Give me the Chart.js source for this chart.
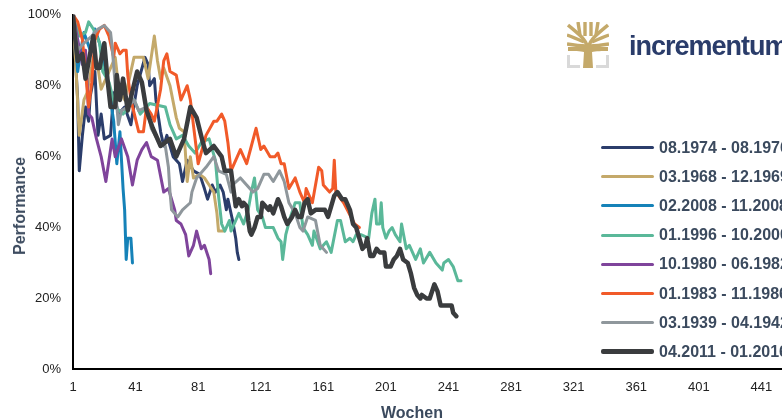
<!DOCTYPE html>
<html>
<head>
<meta charset="utf-8">
<title>Performance</title>
<script src="https://cdn.jsdelivr.net/npm/chart.js@4/dist/chart.umd.min.js"></script>
<style>
  html, body { margin: 0; padding: 0; background: #fff; overflow: hidden; }
  #wrap { position: relative; width: 782px; height: 420px; overflow: hidden; font-family: "Liberation Sans", Arial, sans-serif; }
  #chart { position: absolute; left: 0; top: 0; }
  #legend { position: absolute; left: 601px; top: 133px; width: 220px; }
  .row { display: flex; align-items: center; height: 29.2px; white-space: nowrap; color: #3b4a5e; font-size: 16px; font-weight: bold; }
  .swatch { display: inline-block; width: 53px; margin-right: 5px; border-radius: 2px; }
  #xtitle { position: absolute; left: 381px; top: 404px; color: #3b4a5e; font-size: 16px; font-weight: bold; }
  #ytitle { position: absolute; left: 20px; top: 206px; transform: translate(-50%, -50%) rotate(-90deg); color: #3b4a5e; font-size: 16px; font-weight: bold; white-space: nowrap; }
  #brand { position: absolute; left: 629px; top: 31px; color: #2a3c6a; font-size: 27px; font-weight: 700; letter-spacing: -1px; white-space: nowrap; }
  #logo { position: absolute; left: 567px; top: 22px; }
</style>
</head>
<body>
<div id="wrap">
  <canvas id="chart" width="840" height="420"></canvas>
  <svg id="logo" width="42" height="46" viewBox="0 0 42 46">
    <g fill="none" stroke="#c4a96a" stroke-width="3.4">
      <path d="M21 28 C20 18 14 14 1 3"/><path d="M21 28 C22 18 28 14 41 3"/>
      <path d="M17 20 C12 18 6 15 0 13"/><path d="M25 20 C30 18 36 15 42 13"/>
      <path d="M19 24 C12 24 6 23 0 22"/><path d="M23 24 C30 24 36 23 42 22"/>
      <path d="M13 13 L11 0"/><path d="M29 13 L31 0"/><path d="M18 14 L18 0"/><path d="M24 14 L24 0"/>
    </g>
    <path d="M16 46 L17 30 C14 29 6 29 1 29 L1 25 L41 25 L41 29 C36 29 28 29 25 30 L26 46 Z" fill="#c4a96a"/>
    <path d="M1.5 33 V44.5 H13 M40.5 33 V44.5 H29" fill="none" stroke="#d9d9d9" stroke-width="3"/>
  </svg>
  <div id="brand">incrementum</div>
  <div id="legend"></div>
  <div id="xtitle">Wochen</div>
  <div id="ytitle">Performance</div>
</div>
<script>
// values as [week, performance %]
const s1974 = [[1,100],[4,76],[5,56],[7,66],[9,74],[11,70],[12,77],[15,84],[17,66],[19,72],[21,65],[25,66],[27,78],[30,72],[34,74],[38,69],[42,80],[47,88],[49,86],[50,80],[53,82],[54,76],[57,67],[59,63],[61,66],[65,60],[69,58],[71,53],[74,59],[78,56],[82,55],[85,51],[87,48],[90,52],[92,50],[95,52],[97,50],[99,45],[100,48],[103,42],[105,37],[106,33],[107,31]];
const s1968 = [[1,100],[3,84],[5,66],[8,76],[10,78],[14,88],[17,85],[19,79],[24,84],[28,88],[30,80],[34,76],[37,82],[40,88],[43,88],[46,88],[48,84],[49,82],[53,94],[55,87],[57,82],[59,85],[63,80],[67,71],[69,68],[72,67],[74,53],[76,60],[78,54],[82,55],[85,54],[88,52],[91,50],[93,44],[94,39],[97,39]];
const s2008 = [[1,100],[2,96],[4,84],[6,90],[8,95],[12,90],[15,96],[18,92],[22,84],[25,76],[27,70],[28,64],[29,58],[31,67],[33,51],[34,45],[35,31],[36,37],[38,37],[39,30]];
const s1996 = [[1,100],[5,94],[9,95],[11,98],[14,96],[18,92],[20,84],[24,81],[28,74],[33,72],[40,76],[44,72],[50,75],[60,74],[63,69],[67,65],[71,66],[75,63],[79,61],[83,64],[88,65],[92,59],[94,49],[96,41],[98,39],[101,42],[102,39],[107,44],[110,41],[113,45],[115,50],[117,54],[119,45],[122,43],[124,40],[129,40],[132,37],[134,36],[135,31],[137,38],[140,43],[143,47],[146,47],[148,40],[151,38],[154,35],[155,39],[159,34],[163,36],[166,33],[170,42],[172,42],[175,36],[178,37],[180,36],[182,38],[185,38],[190,37],[192,44],[194,48],[195,41],[197,41],[198,47],[199,40],[201,37],[203,39],[205,40],[207,38],[210,36],[211,41],[214,34],[216,35],[220,31],[223,34],[225,30],[229,33],[233,30],[237,28],[238,30],[241,31],[244,29],[247,25],[249,25]];
const s1980 = [[1,100],[4,93],[7,86],[9,90],[11,72],[13,71],[16,65],[19,60],[22,53],[26,65],[28,60],[32,65],[36,60],[39,52],[42,59],[45,62],[48,64],[51,60],[55,59],[59,50],[62,51],[66,45],[67,42],[70,41],[73,38],[75,32],[78,35],[80,39],[83,34],[85,35],[88,31],[89,27]];
const s1983 = [[1,100],[4,98],[7,93],[9,84],[11,74],[13,81],[15,93],[18,96],[21,97],[24,94],[27,88],[28,92],[31,89],[33,90],[35,90],[36,83],[38,76],[43,67],[46,67],[48,74],[51,72],[53,70],[57,79],[59,87],[61,89],[63,84],[67,83],[70,76],[74,80],[76,76],[81,58],[86,66],[91,70],[93,70],[96,72],[98,70],[100,64],[102,56],[108,62],[112,58],[115,63],[118,68],[121,62],[123,63],[127,60],[130,60],[132,61],[134,58],[136,58],[139,51],[143,54],[146,50],[149,47],[150,51],[154,47],[158,57],[160,56],[161,52],[165,50],[167,51],[168,59],[169,50],[174,47],[181,41],[184,40]];
const s1939 = [[1,100],[4,90],[8,92],[13,94],[17,96],[21,97],[25,95],[26,91],[28,80],[30,69],[32,73],[36,74],[40,76],[43,73],[48,74],[51,68],[56,64],[60,63],[62,57],[63,50],[64,45],[68,43],[71,45],[76,47],[77,50],[80,54],[86,57],[91,60],[94,56],[99,55],[102,50],[103,52],[108,54],[112,52],[116,50],[119,51],[123,55],[126,55],[129,53],[133,56],[136,53],[139,47],[143,44],[146,40],[148,39],[151,43],[156,42],[159,35],[163,33]];
const s2011 = [[1,100],[2,95],[4,87],[7,89],[9,82],[14,94],[16,85],[18,85],[21,92],[23,82],[25,74],[28,74],[29,83],[31,76],[33,82],[36,73],[42,84],[45,81],[48,73],[52,68],[57,63],[63,65],[67,60],[72,65],[76,74],[80,71],[84,64],[86,61],[91,63],[96,60],[98,56],[102,56],[105,46],[106,47],[107,48],[109,46],[110,47],[112,46],[113,42],[114,39],[115,38],[117,40],[119,43],[121,43],[122,47],[124,46],[126,45],[127,46],[129,44],[132,48],[134,46],[136,43],[138,41],[141,43],[143,45],[145,43],[147,43],[149,47],[151,48],[153,44],[156,45],[159,45],[162,45],[164,43],[166,46],[168,49],[170,50],[173,48],[175,48],[178,45],[180,41],[182,40],[184,37],[186,34],[188,35],[189,37],[191,32],[193,32],[195,34],[197,33],[200,33],[201,29],[204,29],[206,31],[208,32],[210,34],[212,31],[215,30],[217,27],[219,23],[221,21],[223,20],[224,21],[227,20],[229,20],[232,24],[234,22],[236,18],[239,18],[241,18],[243,18],[244,16],[246,15]];

const seriesLabels = ['08.1974 - 08.1976','03.1968 - 12.1969','02.2008 - 11.2008','01.1996 - 10.2000','10.1980 - 06.1982','01.1983 - 11.1986','03.1939 - 04.1942','04.2011 - 01.2016'];
const seriesValues = [s1974, s1968, s2008, s1996, s1980, s1983, s1939, s2011];
const seriesColors = ['#2b3d6b','#c4a96a','#1582b8','#5ab899','#7f449b','#f15a29','#8f979c','#3a3c3e'];
const seriesWidths = [3,3,3,3,3,3,3,4.5];
const xTicks = [1,41,81,121,161,201,241,281,321,361,401,441,481];

new Chart(document.getElementById('chart'), {
  type: 'line',
  data: {
    datasets: seriesLabels.map((label, i) => ({
      label: label,
      data: seriesValues[i].map(p => ({ x: p[0], y: p[1] })),
      borderColor: seriesColors[i],
      borderWidth: seriesWidths[i],
      borderJoinStyle: 'round',
      borderCapStyle: 'round',
      pointRadius: 0,
      tension: 0,
      order: seriesLabels.length - 1 - i
    }))
  },
  options: {
    responsive: false,
    animation: false,
    layout: { padding: { top: 10, right: 16, bottom: 20, left: 0 } },
    plugins: { legend: { display: false }, tooltip: { enabled: false } },
    scales: {
      x: {
        type: 'linear',
        min: 1,
        max: 481,
        afterBuildTicks: axis => { axis.ticks = xTicks.map(v => ({ value: v })); },
        grid: { display: false, tickLength: 5, tickColor: '#000', tickWidth: 2 },
        border: { color: '#000', width: 2 },
        ticks: { color: '#222', font: { family: 'Liberation Sans', size: 13 }, maxRotation: 0, autoSkip: false, padding: 5 }
      },
      y: {
        min: 0,
        max: 100,
        afterFit: axis => { axis.width = 73; },
        grid: { display: false, tickLength: 5, tickColor: '#000', tickWidth: 2 },
        border: { color: '#000', width: 2 },
        ticks: { stepSize: 20, color: '#222', font: { family: 'Liberation Sans', size: 13 }, padding: 7, callback: v => v + '%' }
      }
    }
  }
});

// legend rows on the right
const legendDiv = document.getElementById('legend');
seriesLabels.forEach((label, i) => {
  const row = document.createElement('div');
  row.className = 'row';
  row.innerHTML = `<span class="swatch" style="height:${Math.round(seriesWidths[i])}px;background:${seriesColors[i]}"></span>${label}`;
  legendDiv.appendChild(row);
});
</script>
</body>
</html>
